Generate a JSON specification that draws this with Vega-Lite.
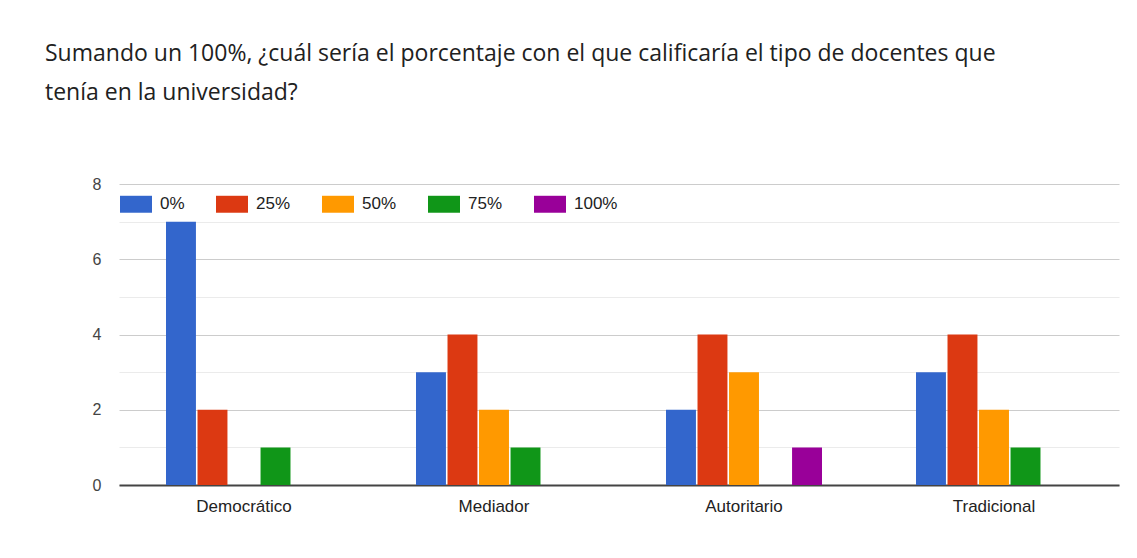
{
  "$schema": "https://vega.github.io/schema/vega-lite/v6.json",
  "width": 1000,
  "height": 301,
  "autosize": {"type": "none"},
  "padding": {"left": 119, "top": 184, "right": 18, "bottom": 73},
  "background": "white",
  "title": {
    "text": ["Sumando un 100%, ¿cuál sería el porcentaje con el que calificaría el tipo de docentes que", "tenía en la universidad?"],
    "anchor": "start",
    "frame": "group",
    "dx": -74,
    "offset": 71,
    "font": "Open Sans",
    "fontSize": 23,
    "fontWeight": "normal",
    "lineHeight": 39,
    "color": "#212121"
  },
  "data": {
    "values": [
      {"tipo": "Democrático", "porcentaje": "0%", "n": 7},
      {"tipo": "Democrático", "porcentaje": "25%", "n": 2},
      {"tipo": "Democrático", "porcentaje": "50%", "n": 0},
      {"tipo": "Democrático", "porcentaje": "75%", "n": 1},
      {"tipo": "Democrático", "porcentaje": "100%", "n": 0},
      {"tipo": "Mediador", "porcentaje": "0%", "n": 3},
      {"tipo": "Mediador", "porcentaje": "25%", "n": 4},
      {"tipo": "Mediador", "porcentaje": "50%", "n": 2},
      {"tipo": "Mediador", "porcentaje": "75%", "n": 1},
      {"tipo": "Mediador", "porcentaje": "100%", "n": 0},
      {"tipo": "Autoritario", "porcentaje": "0%", "n": 2},
      {"tipo": "Autoritario", "porcentaje": "25%", "n": 4},
      {"tipo": "Autoritario", "porcentaje": "50%", "n": 3},
      {"tipo": "Autoritario", "porcentaje": "75%", "n": 0},
      {"tipo": "Autoritario", "porcentaje": "100%", "n": 1},
      {"tipo": "Tradicional", "porcentaje": "0%", "n": 3},
      {"tipo": "Tradicional", "porcentaje": "25%", "n": 4},
      {"tipo": "Tradicional", "porcentaje": "50%", "n": 2},
      {"tipo": "Tradicional", "porcentaje": "75%", "n": 1},
      {"tipo": "Tradicional", "porcentaje": "100%", "n": 0}
    ]
  },
  "mark": {"type": "bar"},
  "encoding": {
    "x": {
      "field": "tipo",
      "type": "nominal",
      "sort": ["Democrático", "Mediador", "Autoritario", "Tradicional"],
      "scale": {"paddingInner": 0.376, "paddingOuter": 0.188},
      "axis": {
        "title": null,
        "labelAngle": 0,
        "ticks": false,
        "domainColor": "#444444",
        "domainWidth": 2,
        "labelFont": "Liberation Sans",
        "labelFontSize": 17,
        "labelColor": "#222222",
        "labelPadding": 13
      }
    },
    "xOffset": {
      "field": "porcentaje",
      "type": "nominal",
      "sort": ["0%", "25%", "50%", "75%", "100%"],
      "scale": {"paddingInner": 0.05}
    },
    "y": {
      "field": "n",
      "type": "quantitative",
      "scale": {"domain": [0, 8], "nice": false},
      "axis": {
        "title": null,
        "values": [0, 1, 2, 3, 4, 5, 6, 7, 8],
        "labelExpr": "datum.value % 2 === 0 ? datum.label : ''",
        "domain": false,
        "ticks": false,
        "gridColor": {"condition": {"test": "datum.value % 2 === 0", "value": "#cccccc"}, "value": "#ebebeb"},
        "gridWidth": 1,
        "labelFont": "Liberation Sans",
        "labelFontSize": 16,
        "labelColor": "#444444",
        "labelPadding": 18
      }
    },
    "color": {
      "field": "porcentaje",
      "type": "nominal",
      "sort": ["0%", "25%", "50%", "75%", "100%"],
      "scale": {
        "domain": ["0%", "25%", "50%", "75%", "100%"],
        "range": ["#3366cc", "#dc3912", "#ff9900", "#109618", "#990099"]
      },
      "legend": {
        "title": null,
        "orient": "none",
        "direction": "horizontal",
        "legendX": 1,
        "legendY": 4,
        "symbolType": "M-1,-0.53H1V0.53H-1Z",
        "symbolSize": 1024,
        "symbolStrokeWidth": 0,
        "symbolOpacity": 1,
        "labelFont": "Liberation Sans",
        "labelFontSize": 17,
        "labelColor": "#222222",
        "labelOffset": 8,
        "columnPadding": 31
      }
    }
  },
  "config": {
    "view": {"stroke": null}
  }
}
